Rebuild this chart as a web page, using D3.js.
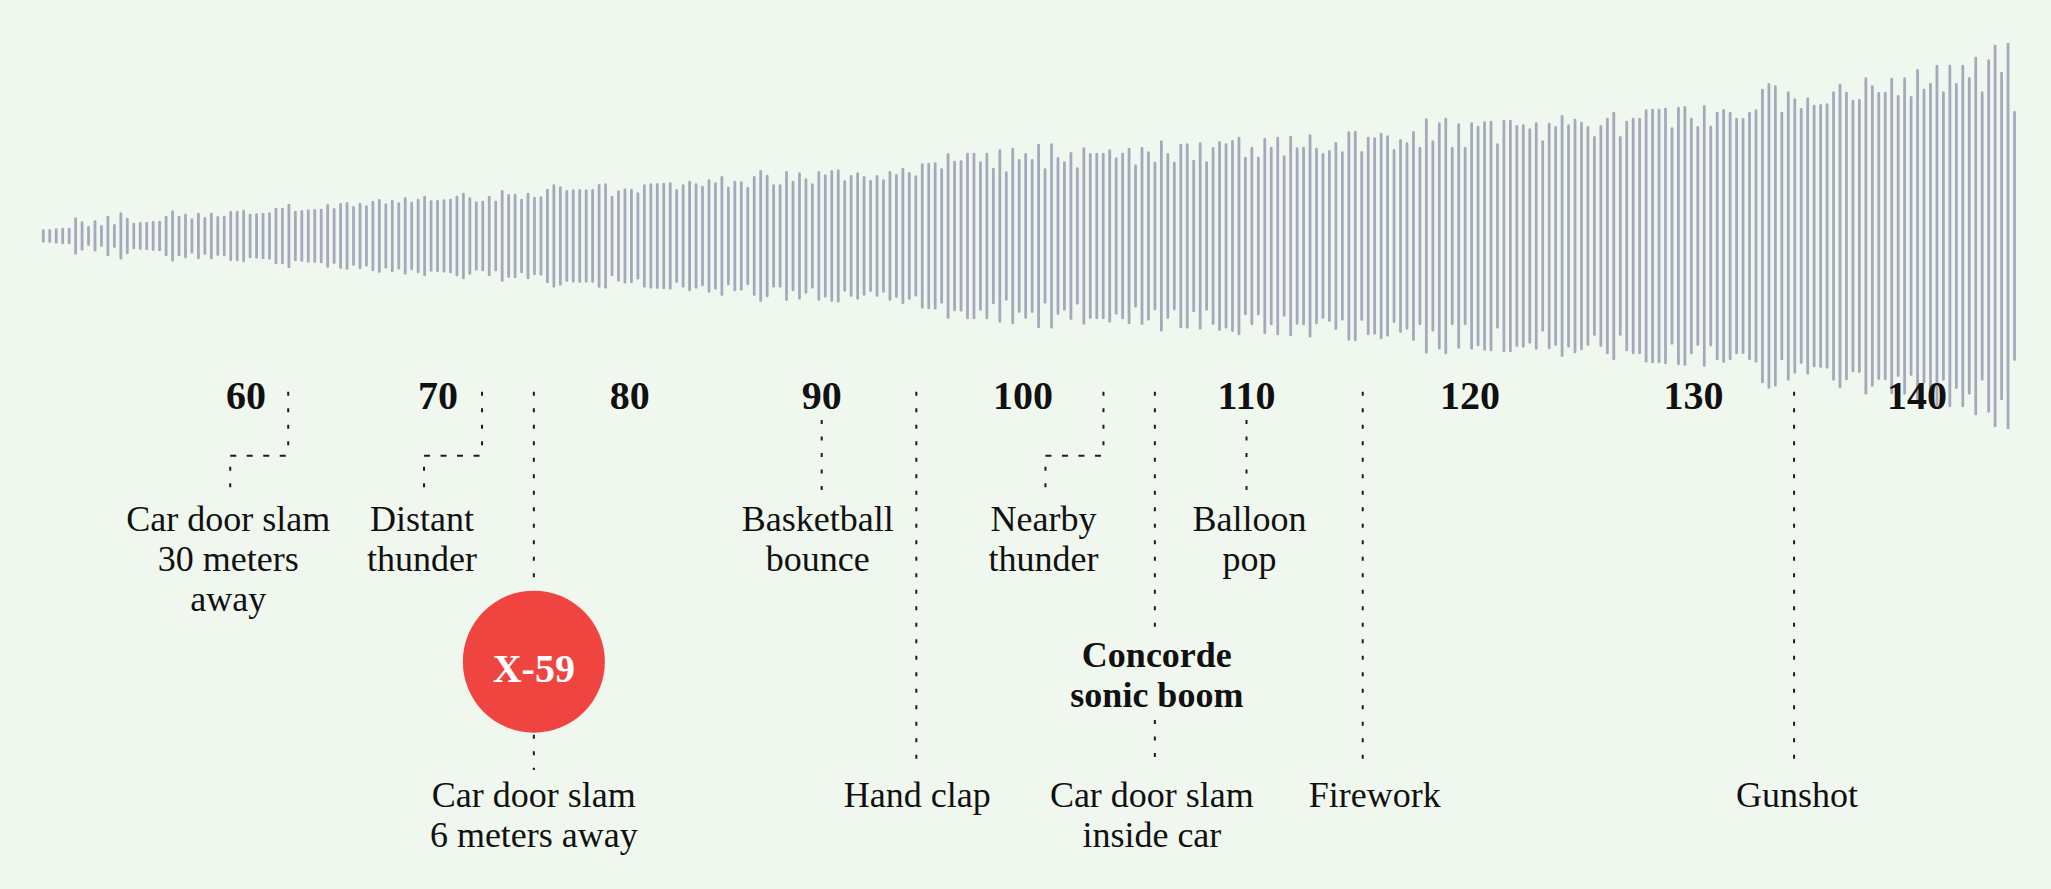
<!DOCTYPE html>
<html>
<head>
<meta charset="utf-8">
<script src="https://cdn.jsdelivr.net/npm/d3@7"></script>
<style>
  html, body { margin: 0; padding: 0; background: #f0f7ef; }
  svg { display: block; }
  text { font-family: "Liberation Serif", "Times New Roman", serif; fill: #111; }
</style>
</head>
<body>
<div id="chart"></div>
<script>
// waveform bar half-heights, left to right
var amplitudes = [
  6.7, 7, 7.7, 8.3, 8.3, 18.7, 14.7, 10, 15.7, 11, 20.3, 12, 23.7, 18.3, 13.3, 14, 14.3, 15, 15.3, 20.3,
  25.7, 20.3, 22.3, 17.7, 23.3, 19, 23.3, 20, 20.3, 25.3, 25.3, 26.3, 22.3, 22.7, 23.3, 23.7, 28.3, 28.3, 32.3, 25.3,
  26, 26.7, 27, 27.3, 32, 28, 33, 34, 30, 33.3, 30.7,
  35.3, 37, 32.7, 36.3, 33.7, 38.7, 34.3, 37.3, 40.3, 35.7, 36.3, 36.7, 37.3, 40.3, 43.3, 38.7, 34.7, 35.3, 40.3, 35.3,
  46, 42, 42.3, 37.3, 43.3, 39.3, 39.7, 47.3, 51.7, 49.7, 46, 46.7, 47, 46.7, 47, 52, 52.7, 40.3, 45.7, 47.7,
  47.3, 43.7, 51.7, 52.7, 53, 53.3, 53.7, 47, 51.7, 55.3, 52.7,
  50.3, 56.7, 53.7, 60, 49.3, 55.3, 54.7, 49.3, 60, 66, 61.3, 51.7, 51.7, 65, 55.3, 63.7, 57.7, 52.7, 65, 61.7,
  66, 66.7, 55.7, 61, 63.7, 60, 56, 61, 56.7, 65, 62, 68.3, 64, 60.7, 72.7, 73.3, 73.7, 67.7, 83, 75.3,
  75.7, 83.3, 83.3, 74.7, 83.3, 68.3, 86.7, 64.7, 88.3, 77, 83,
  77, 92.3, 67.7, 92.7, 79, 74.7, 84, 68.7, 88.7, 83, 83.3, 83.3, 86.7, 78.7, 83.3, 88.3, 71.7, 89, 84.7, 74.3,
  95.7, 83, 74.3, 92.3, 92.7, 76.3, 93.7, 74.7, 89, 95, 92.7, 96, 99.3, 79.3, 89.3, 79.3, 98.3, 89.3, 99.3, 80.7,
  100.3, 88.7, 89.3, 101.7, 88.3, 83, 86, 94, 84.7, 104.7, 105.3,
  85, 99.3, 98.7, 103.3, 100.7, 87, 97, 93.7, 105, 89.3, 117.7, 95.7, 113.7, 118.3, 89.3, 112.7, 89.3, 113.7, 110.3, 114.7,
  115.3, 92.7, 116.3, 116.3, 111, 111.7, 107.7, 113.7, 95.7, 113.3, 110, 121, 111.7, 117.3, 114.3, 110, 100, 111, 118.3, 124.3,
  100, 115.3, 118.3, 118.3, 126.7, 127.3, 127.3, 128.3, 108.7, 129.3, 130,
  118.3, 110, 131, 110.3, 124.3, 127, 124.3, 118.3, 118, 124.3, 126.7, 147.3, 153, 150.7, 124.3, 144.7, 137.7, 128, 138.7, 131.3,
  132, 132.7, 144.7, 152.3, 144.3, 136.3, 137, 158.7, 150.7, 144, 144.3, 158.3, 141, 158.7, 140, 167, 147.3, 153, 171.3, 144.7,
  171.3, 153, 171.3, 158.7, 179.3, 144.7, 176.7, 191.3, 164.3, 193.3, 125
];

// decibel tick labels
var dbTicks = [60, 70, 80, 90, 100, 110, 120, 130, 140];

// sound examples and where they sit on the decibel scale
var soundNames = [
  ["Car door slam", "30 meters", "away"],
  ["Distant", "thunder"],
  ["Car door slam", "6 meters away"],
  ["Basketball", "bounce"],
  ["Hand clap"],
  ["Nearby", "thunder"],
  ["Car door slam", "inside car"],
  ["Balloon", "pop"],
  ["Firework"],
  ["Gunshot"]
];
var soundDb = [62.2, 72.3, 75, 90, 94.7, 103.6, 105.9, 110, 115.2, 134.5];

// the two sonic booms that are called out
var boomNames = [["X-59"], ["Concorde", "sonic boom"]];
var boomDb = [75, 105.9];

(function() {
  'use strict';

  var width = 2051, height = 889;
  var midY = 236;
  var lineH = 40;
  var ink = "#1c1c1c";

  var svg = d3.select("#chart").append("svg")
      .attr("width", width)
      .attr("height", height);

  svg.append("rect")
      .attr("width", width)
      .attr("height", height)
      .attr("fill", "#f0f7ef");

  // the printed scale is not even: 90-100 is wider than 60-90, 100-140 wider still
  var x = d3.scaleLinear()
      .domain([60, 90, 100, 140])
      .range([246, 821.7, 1023, 1917]);

  // waveform
  var xi = d3.scaleLinear()
      .domain([0, amplitudes.length - 1])
      .range([43.3, 2014.5]);
  var amp = d3.scaleLinear().domain([0, 200]).range([0, 200]);

  var barW = 2.8;
  svg.append("g").selectAll("line")
      .data(amplitudes)
      .enter().append("line")
        .attr("x1", function(d, i) { return xi(i); })
        .attr("x2", function(d, i) { return xi(i); })
        .attr("y1", function(d) { return midY - amp(d) + barW / 2; })
        .attr("y2", function(d) { return midY + amp(d) - barW / 2; })
        .attr("stroke", "#a6a9bb")
        .attr("stroke-width", barW)
        .attr("stroke-linecap", "round");

  // tick labels
  svg.append("g").selectAll("text")
      .data(dbTicks)
      .enter().append("text")
        .attr("x", function(d) { return x(d); })
        .attr("y", 409)
        .attr("text-anchor", "middle")
        .attr("font-size", 40)
        .attr("font-weight", "bold")
        .text(function(d) { return d; });

  var leaders = svg.append("g")
      .attr("fill", "none")
      .attr("stroke", ink)
      .attr("stroke-width", 2);

  function vDots(xp, y0, y1) {
    leaders.append("line")
        .attr("x1", xp).attr("x2", xp)
        .attr("y1", y0).attr("y2", y1)
        .attr("stroke-dasharray", "4,12.5");
  }
  function hDots(x0, x1, yp) {
    leaders.append("line")
        .attr("x1", x0).attr("x2", x1)
        .attr("y1", yp).attr("y2", yp)
        .attr("stroke-dasharray", "6,10.5");
  }

  function label(lines, xp, y0, bold, fill) {
    var t = svg.append("text")
        .attr("text-anchor", "middle")
        .attr("font-size", 36)
        .attr("font-weight", bold ? "bold" : "normal");
    if (fill) t.style("fill", fill);
    lines.forEach(function(s, k) {
      t.append("tspan").attr("x", xp).attr("y", y0 + k * lineH).text(s);
    });
  }

  // how each sound is hooked to the scale
  // elbow: stepped leader to the upper row, short: straight down to upper row, long: down to bottom row
  var style = ["elbow", "elbow", "boom", "short", "long", "elbow", "boom", "short", "long", "long"];
  var labelShift = [0, 0, 0, -4, 1, 0, -3, 3, 12, 3];
  var elbow = 58;
  var topY = 391.7, upperRow = 531, lowerRow = 806.7;

  soundDb.forEach(function(db, i) {
    var px = x(db);
    var kind = style[i];
    if (kind === "elbow") {
      vDots(px, topY, 447);
      hDots(px - elbow, px - 2, 455.7);
      vDots(px - elbow, 466.7, 488);
      label(soundNames[i], px - elbow - 2, upperRow);
    } else if (kind === "short") {
      vDots(px, 420, 492);
      label(soundNames[i], px + labelShift[i], upperRow);
    } else {
      if (kind === "long") vDots(px, topY, 770);
      label(soundNames[i], px + labelShift[i], lowerRow);
    }
  });

  // X-59: red disc on its leader
  var x59 = x(boomDb[0]);
  var r = 71, cy = 661.7;
  vDots(x59, topY, cy - r - 2);
  vDots(x59, cy + r + 2, 770);
  svg.append("circle")
      .attr("cx", x59)
      .attr("cy", cy)
      .attr("r", r)
      .attr("fill", "#ef4440");
  svg.append("text")
      .attr("x", x59)
      .attr("y", cy + 20)
      .attr("text-anchor", "middle")
      .attr("font-size", 40)
      .attr("font-weight", "bold")
      .style("fill", "#ffffff")
      .text(boomNames[0][0]);

  // Concorde: bold label sitting on its leader
  var cx = x(boomDb[1]);
  vDots(cx, topY, 628);
  vDots(cx, 720, 765);
  label(boomNames[1], cx + 2, 666.7, true);
})();
</script>
</body>
</html>
